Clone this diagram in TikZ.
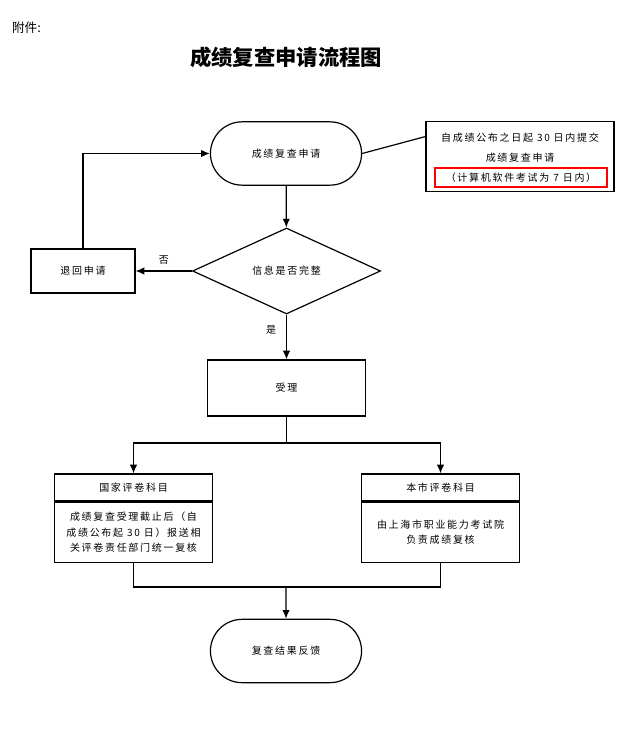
\documentclass[tikz,border=0pt]{standalone}
\usepackage{fontspec}
\setmainfont{Noto Sans CJK SC}
\newfontfamily\cjk{Noto Sans CJK SC}[LetterSpace=17]
\usetikzlibrary{
	shapes.geometric,   %菱形
	shapes.misc,        %圆角矩形
	positioning,        %定位
	arrows.meta,        %箭头
	calc                %计算
}
\newcommand{\nodefont}{\cjk\fontsize{7.5pt}{11.6pt}\selectfont}
\tikzstyle{startstop}=[rounded rectangle,
draw,
minimum width=120pt,
minimum height=47.5pt,
font=\nodefont]
\tikzset{
	every picture/.style={
		>={Latex[length=6.5pt,width=5.5pt]},
		line width=0.9pt
	},
	process/.style={rectangle, draw, align=center, font=\nodefont},
	decision/.style={diamond, draw, aspect=2.2, inner sep=0pt,
		minimum width=141pt, minimum height=64.5pt, font=\nodefont},
	headbox/.style={process, minimum width=119pt, minimum height=20.25pt},
	bodybox/.style={process, minimum width=119pt, minimum height=45pt},
	redbox/.style={draw=red, line width=1.6pt, minimum width=129pt,
		minimum height=14pt, inner sep=0pt, font=\nodefont},
	tag/.style={font=\nodefont}
}

\begin{document}
\begin{tikzpicture}[x=0.75pt,y=-0.75pt]
\useasboundingbox (0,0) rectangle (620,734);
% 标题
\node[anchor=west, font=\fontsize{9.5pt}{11pt}\selectfont] (att) at (7,28) {附件:};
\node[font=\bfseries\fontsize{16pt}{19pt}\selectfont] (title) at (286,57) {成绩复查申请流程图};
% 流程节点
\node[startstop] (apply) at (286,153.5) {成绩复查申请};
\node[draw, minimum width=141pt, minimum height=53pt] (note) at (520,156.5) {};
\node[tag] (note1) at (520,138) {自成绩公布之日起 30 日内提交};
\node[tag] (note2) at (520,158) {成绩复查申请};
\node[redbox] (note3) at (521,177.5) {（计算机软件考试为 7 日内）};
\node[decision] (check) at (286.5,271) {信息是否完整};
\node[process, minimum width=78pt, minimum height=33pt] (reject) at (83,271) {退回申请};
\node[process, minimum width=119pt, minimum height=42pt] (accept) at (286.5,388) {受理};
\node[headbox] (nathead) at (133.5,487.5) {国家评卷科目};
\node[bodybox, below=0pt of nathead] (natbody) {成绩复查受理截止后（自\\成绩公布起 30 日）报送相\\关评卷责任部门统一复核};
\node[headbox] (cityhead) at (440.5,487.5) {本市评卷科目};
\node[bodybox, below=0pt of cityhead] (citybody) {由上海市职业能力考试院\\负责成绩复核};
\node[startstop] (result) at (286,651) {复查结果反馈};
\coordinate (split) at (286.5,443);
\coordinate (merge) at (286,587);
\coordinate (notein) at ($(note.north west)+(0,16)$);
% 连线
\draw (apply.east) -- (notein);
\draw[->] (apply) -- (check);
\draw[->] (check) -- node[tag, above=1pt] {否} (reject);
\draw[->] (reject.north) |- (apply.west);
\draw[->] (check) -- node[tag, left=4pt, pos=0.35] {是} (accept);
\draw (accept) -- (split);
\draw[->] (split) -| (nathead.north);
\draw[->] (split) -| (cityhead.north);
\draw (natbody.south) |- (merge) -| (citybody.south);
\draw[->] (merge) -- (result);
\end{tikzpicture}
\end{document}
